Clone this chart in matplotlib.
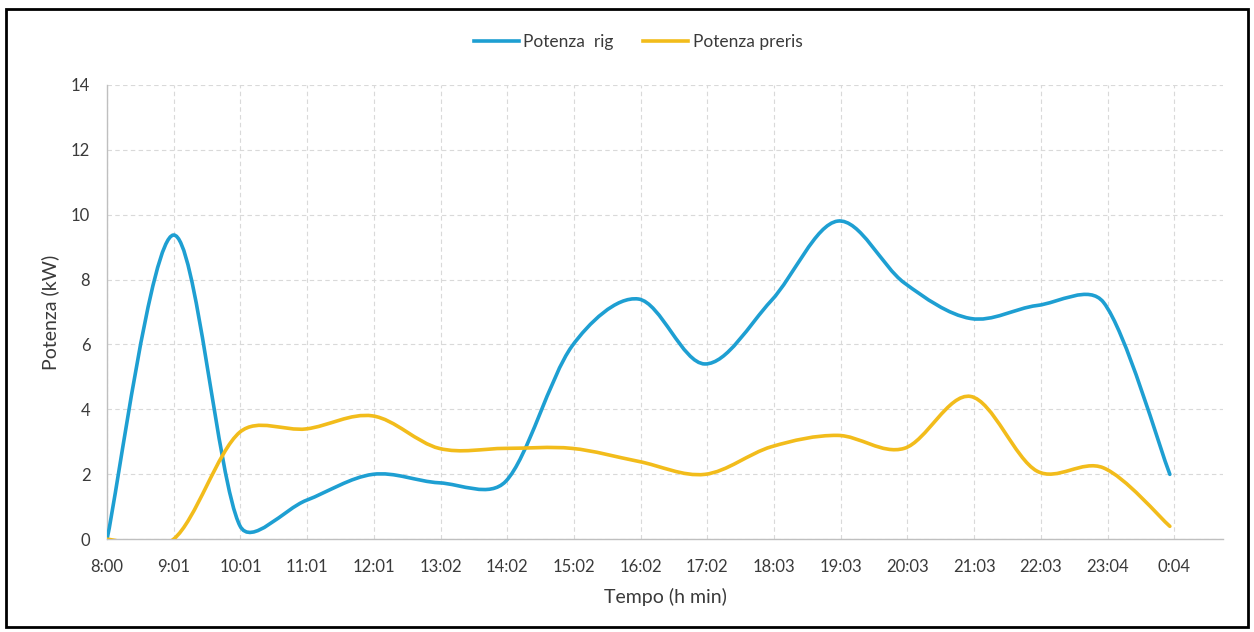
import numpy as np
import matplotlib
matplotlib.use("Agg")
import matplotlib.pyplot as plt
from matplotlib.path import Path
from matplotlib.patches import PathPatch, Rectangle
from matplotlib.lines import Line2D

plt.rcParams['font.family'] = ['Lato', 'DejaVu Sans']

# data: one reading per hour from 8:00 to 0:00 (minutes after 8:00)
minutes = [0, 60, 120, 180, 240, 300, 360, 420, 480, 540, 600, 660, 720, 780, 840, 900, 960]
potenza_rig = [0.0, 9.37, 0.42, 1.2, 2.0, 1.74, 1.78, 5.95, 7.4, 5.4, 7.35, 9.8, 7.9, 6.8, 7.2, 7.3, 2.0]
potenza_preris = [0.0, 0.0, 3.3, 3.4, 3.8, 2.8, 2.8, 2.8, 2.4, 2.0, 2.85, 3.2, 2.8, 4.4, 2.1, 2.2, 0.4]

tick_labels = ['8:00', '9:01', '10:01', '11:01', '12:01', '13:02', '14:02', '15:02', '16:02',
               '17:02', '18:03', '19:03', '20:03', '21:03', '22:03', '23:04', '0:04']
tick_step = 60.25

blue = '#1E9FD2'
gold = '#F2BC1B'
text_col = '#3A3A3A'


def smooth_line(ax, xs, ys, color, k=0.35):
    # Excel-like smoothed line: cubic bezier through every point,
    # control handles built in screen space and kept short on short segments
    pts = ax.transData.transform(np.column_stack([xs, ys]))
    n = len(pts)
    verts = [pts[0]]
    codes = [Path.MOVETO]
    for i in range(n - 1):
        p0 = pts[i - 1] if i > 0 else pts[i]
        p1 = pts[i]
        p2 = pts[i + 1]
        p3 = pts[i + 2] if i + 2 < n else pts[i + 1]
        seg = np.hypot(*(p2 - p1))
        t1 = (p2 - p0) / 6.0
        t2 = (p3 - p1) / 6.0
        for t in (t1, t2):
            ln = np.hypot(*t)
            if ln > k * seg:
                t *= k * seg / ln
        verts += [p1 + t1, p2 - t2, p2]
        codes += [Path.CURVE4] * 3
    verts = ax.transData.inverted().transform(np.array(verts))
    patch = PathPatch(Path(verts, codes), facecolor='none', edgecolor=color,
                      lw=2.6, capstyle='round', joinstyle='round', zorder=3)
    ax.add_patch(patch)


fig = plt.figure(figsize=(12.54, 6.32), dpi=100)
ax = fig.add_axes([107 / 1254, 1 - 539.3 / 632, 1116 / 1254, 454.6 / 632])

ax.set_xlim(0, 1008)
ax.set_ylim(0, 14)
ax.set_yticks(range(0, 15, 2))
ax.set_xticks([i * tick_step for i in range(len(tick_labels))])
ax.set_xticklabels(tick_labels)

ax.grid(True, color='#D9D9D9', linestyle=(0, (4, 3)), linewidth=0.8, zorder=0)
ax.set_axisbelow(True)
for side in ['top', 'right']:
    ax.spines[side].set_visible(False)
for side in ['left', 'bottom']:
    ax.spines[side].set_color('#BFBFBF')
    ax.spines[side].set_linewidth(1.0)
ax.tick_params(length=0, labelsize=12, labelcolor=text_col)
ax.tick_params(axis='x', pad=14)
ax.tick_params(axis='y', pad=12)

smooth_line(ax, minutes, potenza_rig, blue)
smooth_line(ax, minutes, potenza_preris, gold)

ax.set_xlabel('Tempo (h min)', fontsize=14, color=text_col)
ax.set_ylabel('Potenza (kW)', fontsize=14, color=text_col)
ax.xaxis.set_label_coords(0.5, -0.127)
ax.xaxis.label.set_va('center')
ax.yaxis.set_label_coords(-0.051, 0.5)
ax.yaxis.label.set_va('center')

handles = [Line2D([], [], color=blue, lw=2.6), Line2D([], [], color=gold, lw=2.6)]
fig.legend(handles, ['Potenza  rig', 'Potenza preris'], loc='center',
           bbox_to_anchor=(638 / 1254, 1 - 42 / 632), ncol=2, frameon=False,
           fontsize=12.5, handlelength=2.6, handletextpad=0.25, columnspacing=1.7,
           labelcolor=text_col)

fig.add_artist(Rectangle((6 / 1254, 1 - 627 / 632), 1242 / 1254, 618 / 632,
                         transform=fig.transFigure, fill=False, edgecolor='black', lw=2))

fig.savefig('out.png', dpi=100)
